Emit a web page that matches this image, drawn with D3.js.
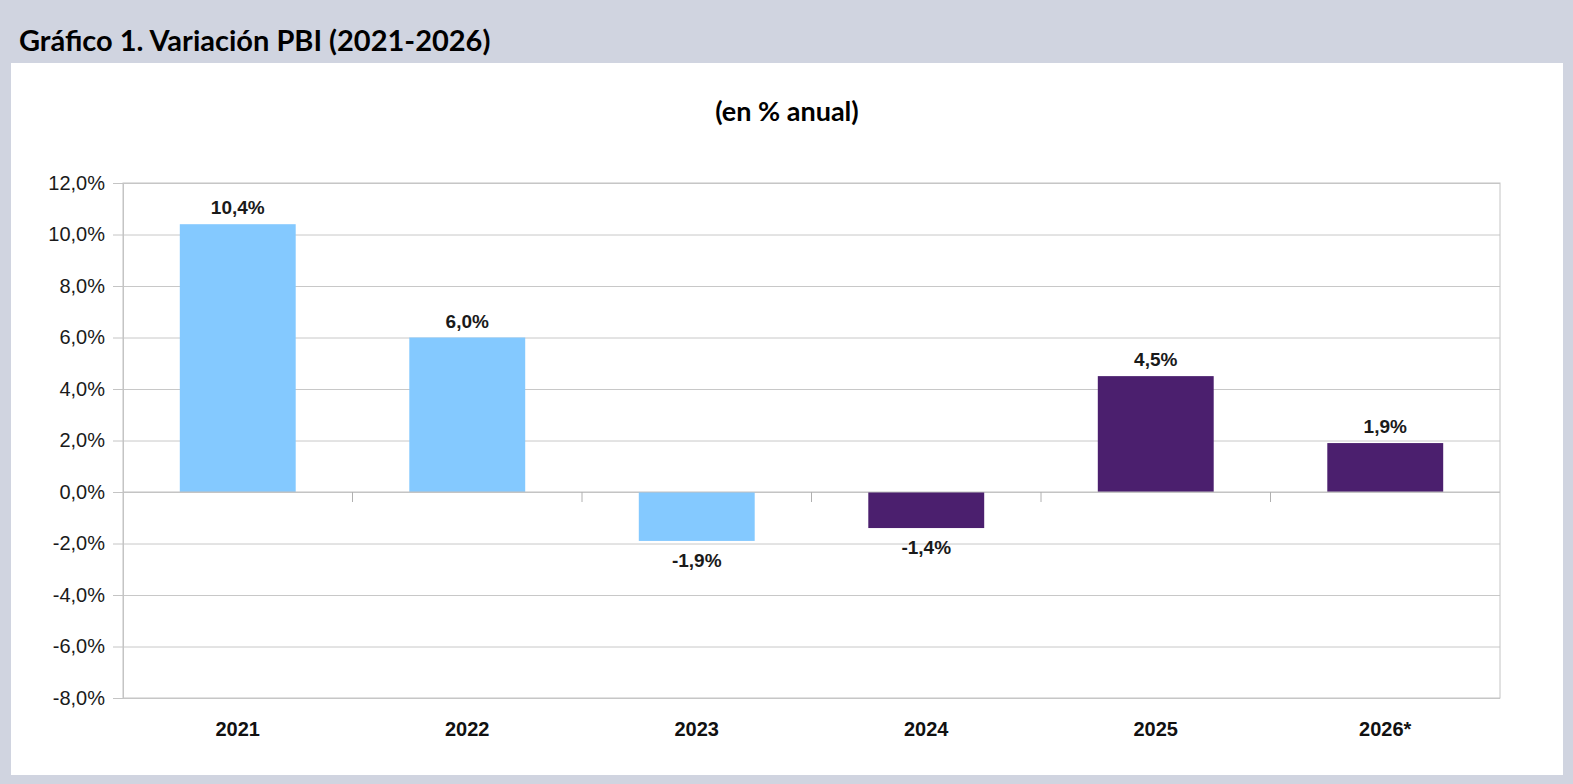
<!DOCTYPE html>
<html>
<head>
<meta charset="utf-8">
<script src="https://cdn.jsdelivr.net/npm/d3@7"></script>
<style>
  html, body { margin: 0; padding: 0; background: #d0d4e0; }
  svg { display: block; }
</style>
</head>
<body>
<svg id="chart" width="1573" height="784"></svg>
<script>
// Datos del gráfico
const years = ["2021", "2022", "2023", "2024", "2025", "2026*"];
const growth = [10.4, 6.0, -1.9, -1.4, 4.5, 1.9];
const period = ["anterior", "anterior", "anterior", "actual", "actual", "actual"];
const yTicks = [-8, -6, -4, -2, 0, 2, 4, 6, 8, 10, 12];

const data = years.map((y, i) => ({ year: y, value: growth[i], period: period[i] }));

const svg = d3.select("#chart");
const W = +svg.attr("width");
const H = +svg.attr("height");

// fondo y panel blanco
svg.append("rect").attr("width", W).attr("height", H).attr("fill", "#d0d4e0");
svg.append("rect")
  .attr("x", 11).attr("y", 63)
  .attr("width", 1552).attr("height", 712)
  .attr("fill", "#ffffff");

// título
svg.append("text")
  .attr("x", 19).attr("y", 51)
  .style("font-family", "Lato, 'Open Sans', sans-serif")
  .style("font-size", "29px")
  .style("font-weight", "bold")
  .attr("fill", "#000")
  .text("Gráfico 1. Variación PBI (2021-2026)");

svg.append("text")
  .attr("x", 787).attr("y", 121)
  .attr("text-anchor", "middle")
  .style("font-family", "Lato, 'Open Sans', sans-serif")
  .style("font-size", "27px")
  .style("font-weight", "bold")
  .attr("fill", "#000")
  .text("(en % anual)");

const margin = { top: 183, left: 123, right: 73, bottom: 86 };
const innerW = W - margin.left - margin.right;
const innerH = H - margin.top - margin.bottom;

const g = svg.append("g").attr("transform", `translate(${margin.left},${margin.top})`);

const x = d3.scaleBand()
  .domain(years)
  .range([0, innerW])
  .paddingInner(0.495)
  .paddingOuter(0.2475);

const y = d3.scaleLinear()
  .domain([-8, 12])
  .range([innerH, 0]);

const color = d3.scaleOrdinal()
  .domain(["anterior", "actual"])
  .range(["#84c9ff", "#4b1f6e"]);

const locale = d3.formatLocale({ decimal: ",", thousands: ".", grouping: [3], currency: ["$", ""], minus: "-" });
const fmt = locale.format(".1f");

// grilla horizontal
const grid = g.append("g")
  .call(d3.axisLeft(y).tickValues(yTicks).tickSize(-innerW).tickFormat(""));
grid.select(".domain").remove();
grid.selectAll("line").attr("stroke", "#c8c8c8").attr("stroke-width", 1);

// borde del área
g.append("rect")
  .attr("width", innerW).attr("height", innerH)
  .attr("fill", "none")
  .attr("stroke", "#c4c4c4");

// eje Y
const yAxis = g.append("g")
  .call(d3.axisLeft(y).tickValues(yTicks).tickSize(10).tickPadding(8).tickFormat(d => fmt(d) + "%"));
yAxis.select(".domain").attr("stroke", "#c4c4c4");
yAxis.selectAll("line").attr("stroke", "#c4c4c4");
yAxis.selectAll("text")
  .style("font-family", "'Liberation Sans', Arial, sans-serif")
  .style("font-size", "20px")
  .attr("fill", "#1a1a1a");

// barras
g.selectAll("rect.bar")
  .data(data)
  .enter()
  .append("rect")
  .attr("class", "bar")
  .attr("x", d => x(d.year))
  .attr("y", d => y(Math.max(0, d.value)))
  .attr("width", x.bandwidth())
  .attr("height", d => Math.abs(y(d.value) - y(0)))
  .attr("fill", d => color(d.period));

// línea de cero con marcas entre categorías
const zero = g.append("g").attr("transform", `translate(0,${y(0)})`);
zero.append("line")
  .attr("x1", 0).attr("x2", innerW)
  .attr("stroke", "#c0c0c0");
zero.selectAll("line.sep")
  .data(years.slice(1))
  .enter()
  .append("line")
  .attr("class", "sep")
  .attr("x1", d => x(d) - x.step() * x.paddingInner() / 2)
  .attr("x2", d => x(d) - x.step() * x.paddingInner() / 2)
  .attr("y1", 0).attr("y2", 10)
  .attr("stroke", "#b0b0b0");

// etiquetas de valores
g.selectAll("text.lbl")
  .data(data)
  .enter()
  .append("text")
  .attr("class", "lbl")
  .attr("x", d => x(d.year) + x.bandwidth() / 2)
  .attr("y", d => d.value >= 0 ? y(d.value) - 10 : y(d.value) + 26)
  .attr("text-anchor", "middle")
  .style("font-family", "'Liberation Sans', Arial, sans-serif")
  .style("font-size", "19px")
  .style("font-weight", "bold")
  .attr("fill", "#1a1a1a")
  .text(d => fmt(d.value) + "%");

// eje X (etiquetas de años)
const xAxis = g.append("g")
  .attr("transform", `translate(0,${innerH})`)
  .call(d3.axisBottom(x).tickSize(0).tickPadding(24));
xAxis.select(".domain").remove();
xAxis.selectAll("text")
  .style("font-family", "'Liberation Sans', Arial, sans-serif")
  .style("font-size", "20px")
  .style("font-weight", "bold")
  .attr("fill", "#111");
</script>
</body>
</html>
